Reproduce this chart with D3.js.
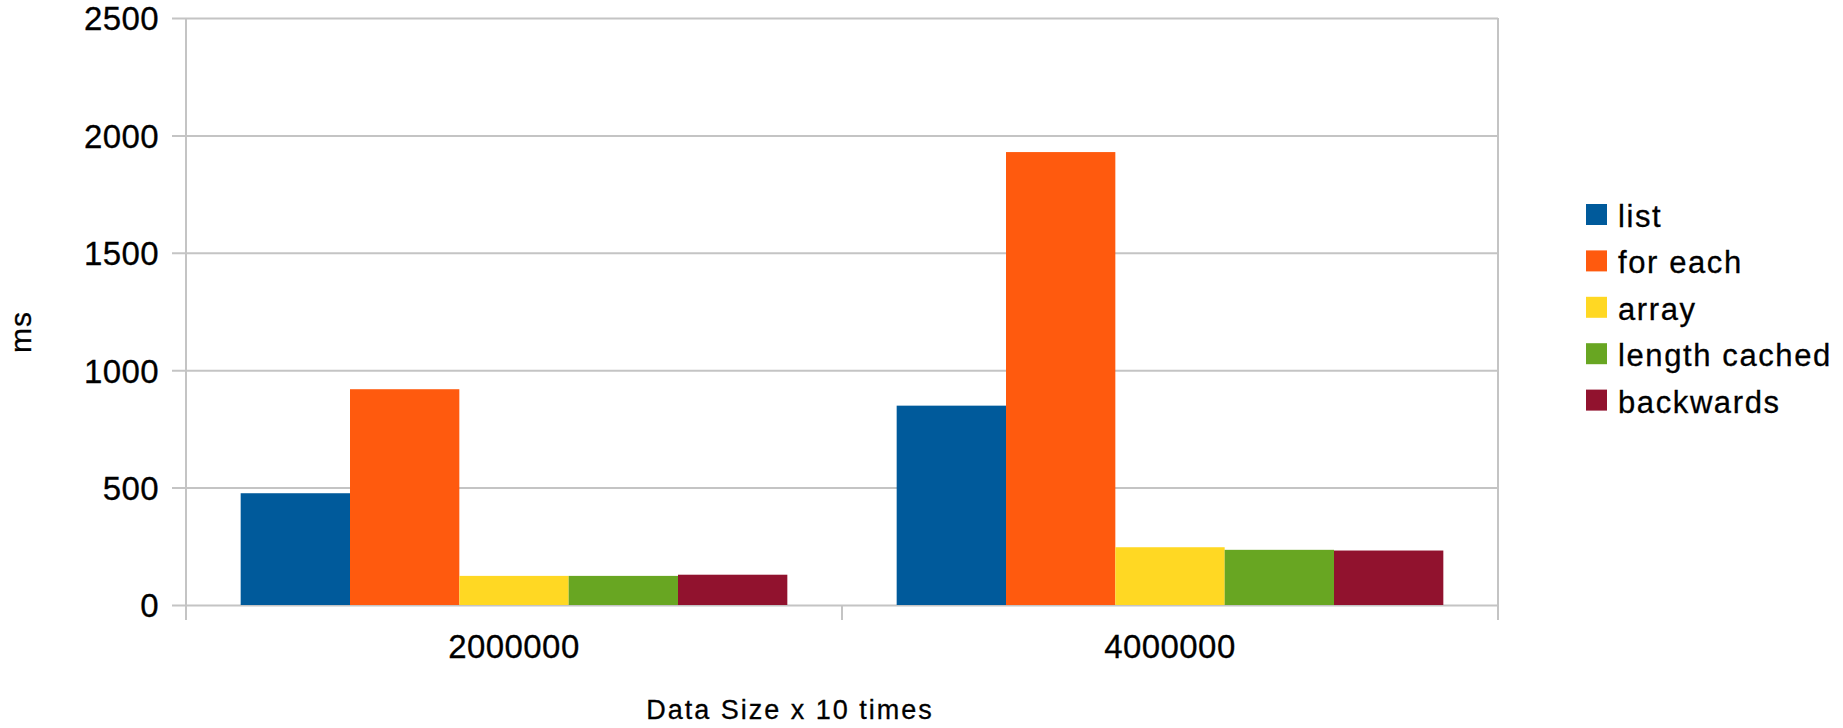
<!DOCTYPE html>
<html>
<head>
<meta charset="utf-8">
<script src="https://cdn.jsdelivr.net/npm/d3@7"></script>
<style>
  html, body { margin: 0; padding: 0; background: #fff; }
  svg { display: block; font-family: "Liberation Sans", Arial, Helvetica, sans-serif; }
  svg text { fill: #000; stroke: #000; stroke-width: 0.3px; }
</style>
</head>
<body>
<svg id="chart" width="1843" height="728"></svg>
<script>
// Loop timings (ms) for two data sizes
const categories = ["2000000", "4000000"];
const seriesNames = ["list", "for each", "array", "length cached", "backwards"];
const listValues = [476, 849];
const forEachValues = [919, 1929];
const arrayValues = [124, 246];
const lengthCachedValues = [124, 235];
const backwardsValues = [129, 232];
const yTicks = [0, 500, 1000, 1500, 2000, 2500];
const colors = ["#005a9b", "#ff5a0e", "#ffd823", "#68a622", "#91122e"];

const seriesValues = [listValues, forEachValues, arrayValues, lengthCachedValues, backwardsValues];
const rows = categories.map((c, i) => ({
  category: c,
  values: seriesNames.map((s, j) => ({ series: s, value: seriesValues[j][i] }))
}));

const svg = d3.select("#chart");
const plot = { left: 186, right: 1498, top: 18, bottom: 605 };
const gridColor = "#c4c4c4";

const x0 = d3.scaleBand().domain(categories).range([plot.left, plot.right]).paddingInner(0).paddingOuter(0);
const x1 = d3.scaleBand().domain(seriesNames).range([0, x0.bandwidth()]).paddingInner(0).paddingOuter(0.5);
const y = d3.scaleLinear().domain([0, 2500]).range([plot.bottom, plot.top]);
const color = d3.scaleOrdinal().domain(seriesNames).range(colors);

// Horizontal gridlines with short ticks left of the axis
const yAxis = d3.axisLeft(y).tickValues(yTicks).tickSize(plot.right - plot.left + 14).tickFormat(d3.format("d"));
const gy = svg.append("g")
  .attr("transform", `translate(${plot.right},0)`)
  .call(yAxis);
gy.select(".domain").remove();
gy.selectAll(".tick line").attr("stroke", gridColor).attr("stroke-width", 2);
gy.selectAll(".tick text")
  .attr("x", -(plot.right - 159))
  .attr("dy", "0.36em")
  .style("font-size", "33px")
  .style("letter-spacing", "0.4px")
  .attr("font-family", null);

// Bars
svg.append("g").selectAll("g")
  .data(rows)
  .join("g")
  .attr("transform", d => `translate(${x0(d.category)},0)`)
  .selectAll("rect")
  .data(d => d.values)
  .join("rect")
  .attr("x", d => x1(d.series))
  .attr("y", d => y(d.value))
  .attr("width", x1.bandwidth())
  .attr("height", d => y(0) - y(d.value))
  .attr("fill", d => color(d.series));

// Vertical axis line and right frame edge
const frame = svg.append("g").attr("stroke", gridColor).attr("stroke-width", 2);
frame.append("line").attr("x1", plot.left).attr("x2", plot.left).attr("y1", plot.top).attr("y2", plot.bottom + 15);
frame.append("line").attr("x1", plot.right).attr("x2", plot.right).attr("y1", plot.top).attr("y2", plot.bottom + 15);

// Category axis: separator ticks and labels
const boundaries = categories.slice(1).map(c => x0(c));
frame.selectAll("line.sep")
  .data(boundaries)
  .join("line")
  .attr("class", "sep")
  .attr("x1", d => d).attr("x2", d => d)
  .attr("y1", plot.bottom).attr("y2", plot.bottom + 15);

const xAxis = d3.axisBottom(x0).tickSize(0).tickPadding(0);
const gx = svg.append("g").attr("transform", `translate(0,${plot.bottom})`).call(xAxis);
gx.select(".domain").remove();
gx.selectAll(".tick text")
  .attr("y", 53)
  .attr("dy", null)
  .style("font-size", "33px")
  .style("letter-spacing", "0.4px")
  .attr("font-family", null);

// Axis titles
svg.append("text")
  .attr("x", 790)
  .attr("y", 719)
  .attr("text-anchor", "middle")
  .style("font-size", "27px")
  .style("letter-spacing", "2px")
  .text("Data Size x 10 times");

svg.append("text")
  .attr("transform", "translate(31,332) rotate(-90)")
  .attr("text-anchor", "middle")
  .style("font-size", "30px")
  .style("letter-spacing", "1px")
  .text("ms");

// Legend
const legend = svg.append("g").attr("transform", "translate(1586,204)");
const item = legend.selectAll("g")
  .data(seriesNames)
  .join("g")
  .attr("transform", (d, i) => `translate(0,${i * 46.4})`);
item.append("rect")
  .attr("width", 21).attr("height", 21)
  .attr("fill", d => color(d))
  .style("stroke", "none");
item.append("text")
  .attr("x", 32)
  .attr("y", 23)
  .style("font-size", "31px")
  .style("letter-spacing", "1.6px")
  .text(d => d);
</script>
</body>
</html>
